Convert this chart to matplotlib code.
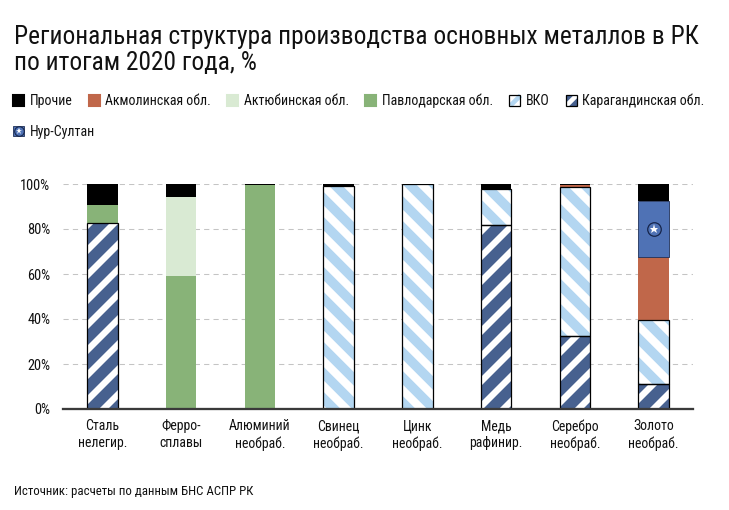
import matplotlib
matplotlib.use('Agg')
import matplotlib.pyplot as plt
from matplotlib import font_manager
from matplotlib.patches import Patch
from matplotlib.lines import Line2D
from matplotlib.legend_handler import HandlerTuple
import numpy as np

# шрифт: берём первый доступный узкий
installed = {f.name for f in font_manager.fontManager.ttflist}
prefs = ['Liberation Sans Narrow', 'Roboto Condensed', 'Noto Sans Condensed',
         'Open Sans Condensed', 'DejaVu Sans Condensed', 'Noto Sans ExtraCondensed',
         'Liberation Sans']
main_font = next((p for p in prefs if p in installed), 'DejaVu Sans')
plt.rcParams['font.family'] = [main_font, 'DejaVu Sans']
plt.rcParams['hatch.linewidth'] = 4.8

# данные (%, по картинке)
categories = ['Сталь\nнелегир.', 'Ферро-\nсплавы', 'Алюминий\nнеобраб.', 'Свинец\nнеобраб.',
              'Цинк\nнеобраб.', 'Медь\nрафинир.', 'Серебро\nнеобраб.', 'Золото\nнеобраб.']
karaganda = [82.5, 0, 0, 0, 0, 81.8, 32.3, 10.9]
vko = [0, 0, 0, 98.9, 100, 16.2, 66.5, 28.6]
pavlodar = [8.0, 59.3, 99.4, 0, 0, 0, 0, 0]
aktobe = [0, 35.1, 0, 0, 0, 0, 0, 0]
akmola = [0, 0, 0, 0, 0, 0, 0.7, 27.9]
nur_sultan = [0, 0, 0, 0, 0, 0, 0, 24.9]
other = [9.5, 5.6, 0.6, 1.1, 0, 2.0, 0.5, 7.7]
y_ticks = [0, 20, 40, 60, 80, 100]

# цвета
c_other = '#000000'
c_akmola = '#c0674a'
c_aktobe = '#d9ead3'
c_pavlodar = '#88b378'
c_vko = '#b3d6f1'
c_karaganda = '#47618f'
c_nur = '#4f72b5'

DPI = 150
fig = plt.figure(figsize=(730 / DPI, 510 / DPI), dpi=DPI)
ax = fig.add_axes([63 / 730, 1 - 409 / 510, 630 / 730, 225 / 510])

x = np.arange(len(categories))
width = 0.39

# слои снизу вверх: (значения, цвет, штриховка, толщина штриха)
layers = [
    (karaganda, c_karaganda, '//', 5.4),
    (vko, c_vko, '\\\\', 4.6),
    (pavlodar, c_pavlodar, None, 0),
    (aktobe, c_aktobe, None, 0),
    (akmola, c_akmola, None, 0),
    (nur_sultan, c_nur, 'nur', 0),
    (other, c_other, None, 0),
]

bottom = np.zeros(len(categories))
for values, color, hatch, hlw in layers:
    values = np.array(values, dtype=float)
    mask = values > 0
    if hatch in ('//', '\\\\'):
        # штриховка цветом слоя на белом + чёрный контур
        bars = ax.bar(x[mask], values[mask], width, bottom=bottom[mask], facecolor='white',
                      edgecolor=color, hatch=hatch, linewidth=0, zorder=3)
        for b in bars:
            if hasattr(b, 'set_hatch_linewidth'):
                b.set_hatch_linewidth(hlw)
        ax.bar(x[mask], values[mask], width, bottom=bottom[mask], fill=False,
               edgecolor='black', linewidth=0.6, zorder=4)
    elif hatch == 'nur':
        ax.bar(x[mask], values[mask], width, bottom=bottom[mask], color=color,
               edgecolor='#1f3058', linewidth=0.4, zorder=3)
        mid = bottom[mask] + values[mask] / 2
        ax.plot(x[mask], mid, 'o', ms=6.5, mfc='none', mec='#16254a', mew=0.6, zorder=5)
        ax.plot(x[mask], mid, '*', ms=4.5, mfc='white', mec='white', mew=0, zorder=6)
    else:
        ax.bar(x[mask], values[mask], width, bottom=bottom[mask], color=color,
               linewidth=0, zorder=3)
    bottom += values

ax.set_xlim(-0.5, 7.5)
ax.set_ylim(0, 100)
ax.set_yticks(y_ticks)
ax.set_yticklabels([f'{t}%' for t in y_ticks])
ax.set_xticks(x)
ax.set_xticklabels(categories, linespacing=1.25)
ax.tick_params(axis='both', length=0, labelsize=6.6, colors='#111111')
ax.tick_params(axis='y', labelsize=6.9)
ax.tick_params(axis='x', pad=5)
ax.tick_params(axis='y', pad=6)

for s in ['top', 'right', 'left']:
    ax.spines[s].set_visible(False)
ax.spines['bottom'].set_color('#3a3a3a')
ax.spines['bottom'].set_linewidth(1.1)
ax.spines['bottom'].set_zorder(6)

ax.yaxis.grid(True, color='#c4c4c4', linestyle=(0, (5, 4)), linewidth=0.5, zorder=0)
ax.set_axisbelow(True)

# заголовок
fig.text(14 / 730, 1 - 25 / 510,
         'Региональная структура производства основных металлов в РК\nпо итогам 2020 года, %',
         fontsize=12.2, va='top', ha='left', linespacing=1.12, color='#111111')

# легенда: значки с диагональной полосой
diag = [(-1, -1), (1, 1)]

def striped(face, stripe):
    return (Patch(facecolor=face, linewidth=0),
            Line2D([], [], marker=diag, ls='none', ms=4.8, mec=stripe, mew=2.2),
            Patch(fill=False, edgecolor='black', linewidth=0.6))

row1_handles = [Patch(color=c_other), Patch(color=c_akmola), Patch(color=c_aktobe),
                Patch(color=c_pavlodar), striped('white', c_vko),
                striped(c_karaganda, 'white')]
row1_labels = ['Прочие', 'Акмолинская обл.', 'Актюбинская обл.', 'Павлодарская обл.',
               'ВКО', 'Карагандинская обл.']
leg_kw = dict(frameon=False, fontsize=6.7, handlelength=0.8, handleheight=0.8,
              handletextpad=0.4, columnspacing=1.15, borderaxespad=0, borderpad=0,
              handler_map={tuple: HandlerTuple(ndivide=1, pad=0)})
leg1 = fig.legend(row1_handles, row1_labels, ncol=6, loc='center left',
                  bbox_to_anchor=(13 / 730, 1 - 101 / 510), **leg_kw)
for t in leg1.get_texts():
    t.set_color('#111111')

nur_handle = (Patch(facecolor=c_nur, edgecolor='#1f3058', linewidth=0.4),
              Line2D([], [], marker='o', ls='none', ms=4.6, mfc='none', mec='#16254a', mew=0.5),
              Line2D([], [], marker='*', ls='none', ms=3.2, mfc='white', mec='white', mew=0))
leg2 = fig.legend([nur_handle], ['Нур-Султан'], ncol=1, loc='center left',
                  bbox_to_anchor=(13 / 730, 1 - 132 / 510), **leg_kw)
for t in leg2.get_texts():
    t.set_color('#111111')

# источник
fig.text(14 / 730, 1 - 492 / 510, 'Источник: расчеты по данным БНС АСПР РК',
         fontsize=6.2, va='center', ha='left', color='#111111')

fig.savefig('out.png', dpi=DPI, facecolor='white')
